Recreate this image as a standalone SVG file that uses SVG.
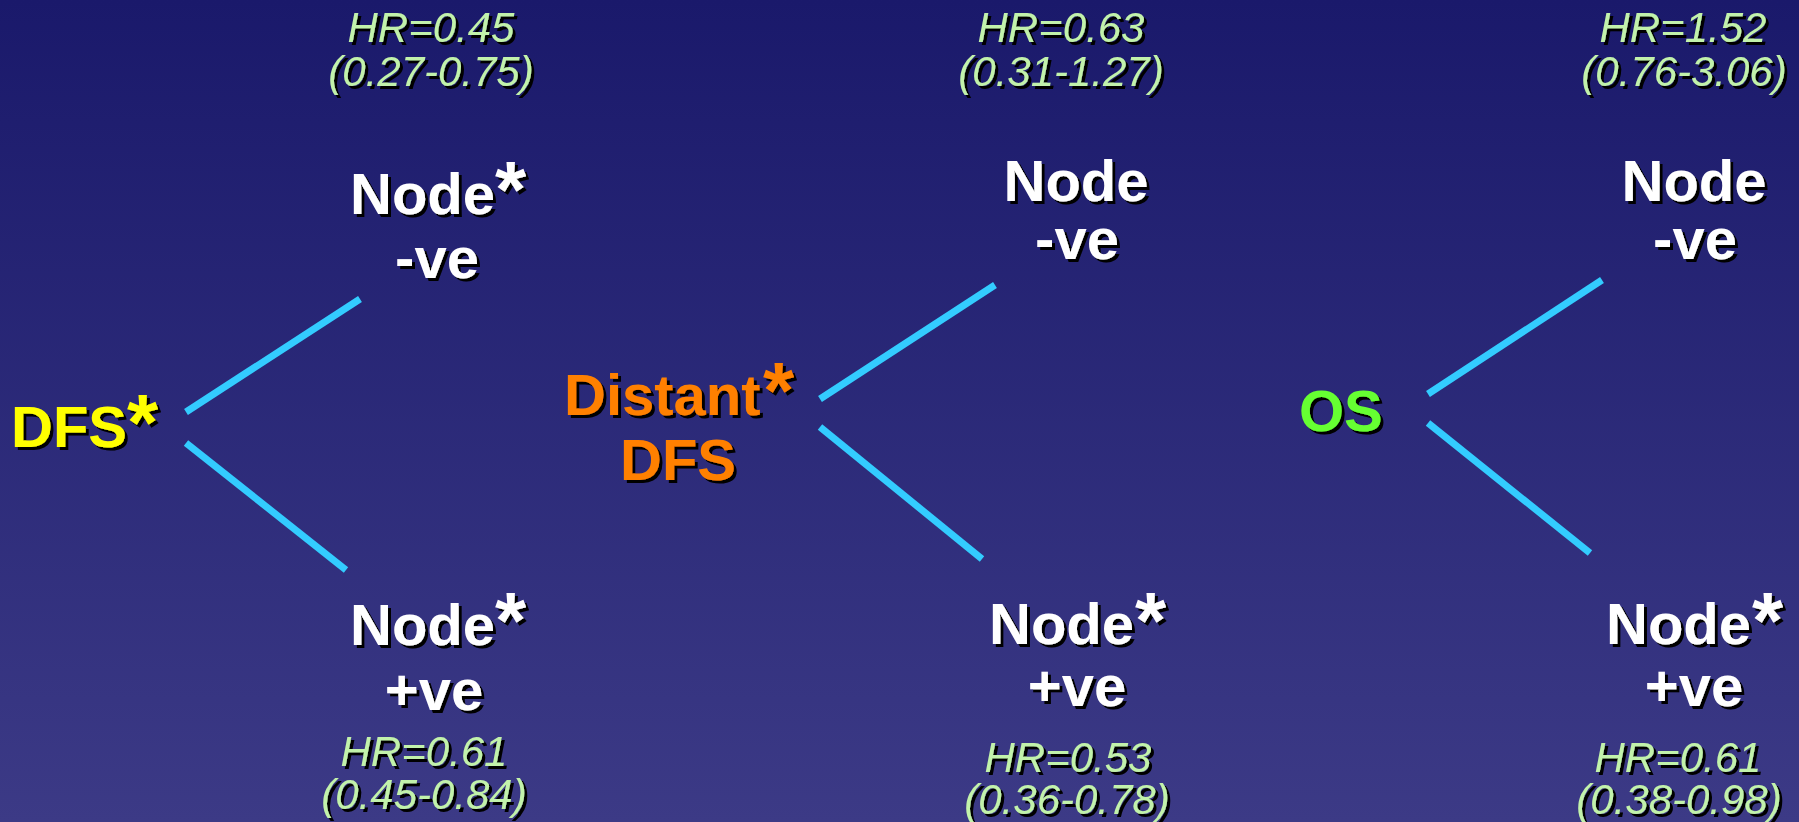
<svg xmlns="http://www.w3.org/2000/svg" width="1799" height="822" viewBox="0 0 1799 822">
  <defs>
    <linearGradient id="bg" x1="0" y1="0" x2="0" y2="1">
      <stop offset="0" stop-color="#1a196b"/>
      <stop offset="1" stop-color="#3c3a86"/>
    </linearGradient>
    <filter id="shadow" x="-10%" y="-20%" width="130%" height="150%">
      <feDropShadow dx="3" dy="3" stdDeviation="0" flood-color="#000000" flood-opacity="1"/>
    </filter>
    <style>
      .lbl { font-family: "Liberation Sans", Arial, sans-serif; font-weight: bold; font-size: 58px; filter: url(#shadow); }
      .star { font-family: "Liberation Sans", Arial, sans-serif; font-weight: bold; font-size: 80px; filter: url(#shadow); }
      .white { fill: #ffffff; }
      .yellow { fill: #ffff00; }
      .orange { fill: #ff8000; }
      .green { fill: #66ff33; }
      .hr { font-family: "Liberation Sans", Arial, sans-serif; font-style: italic; font-size: 42px; fill: #c2f2ab; text-anchor: middle; filter: url(#shadow); }
      .mid { text-anchor: middle; }
      .branch { stroke: #33ccff; stroke-width: 7; fill: none; }
    </style>
  </defs>

  <rect x="0" y="0" width="1799" height="822" fill="url(#bg)"/>

  <!-- branch lines -->
  <g id="connectors">
    <line class="branch" x1="186" y1="412" x2="360" y2="299"/>
    <line class="branch" x1="186" y1="443" x2="346" y2="570"/>
    <line class="branch" x1="820" y1="399" x2="995" y2="285"/>
    <line class="branch" x1="820" y1="427" x2="982" y2="559"/>
    <line class="branch" x1="1428" y1="394" x2="1602" y2="280"/>
    <line class="branch" x1="1428" y1="423" x2="1590" y2="553"/>
  </g>

  <!-- DFS tree -->
  <g id="dfs">
    <text class="lbl yellow" x="11" y="447">DFS</text>
    <text class="star yellow" x="127" y="450">*</text>
  </g>
  <g id="dfs-neg">
    <text class="hr" x="431" y="42">HR=0.45</text>
    <text class="hr" x="431" y="86">(0.27-0.75)</text>
    <text class="lbl white" x="350" y="214">Node</text>
    <text class="star white" x="495" y="217">*</text>
    <text class="lbl white mid" x="437" y="278">-ve</text>
  </g>
  <g id="dfs-pos">
    <text class="lbl white" x="350" y="645">Node</text>
    <text class="star white" x="495" y="648">*</text>
    <text class="lbl white mid" x="434" y="710">+ve</text>
    <text class="hr" x="424" y="766">HR=0.61</text>
    <text class="hr" x="424" y="809">(0.45-0.84)</text>
  </g>

  <!-- Distant DFS tree -->
  <g id="distant-dfs">
    <text class="lbl orange" x="564" y="415">Distant</text>
    <text class="star orange" x="763" y="418">*</text>
    <text class="lbl orange mid" x="678" y="480">DFS</text>
  </g>
  <g id="distant-neg">
    <text class="hr" x="1061" y="42">HR=0.63</text>
    <text class="hr" x="1061" y="86">(0.31-1.27)</text>
    <text class="lbl white mid" x="1076" y="201">Node</text>
    <text class="lbl white mid" x="1077" y="259">-ve</text>
  </g>
  <g id="distant-pos">
    <text class="lbl white" x="989" y="644">Node</text>
    <text class="star white" x="1135" y="648">*</text>
    <text class="lbl white mid" x="1077" y="706">+ve</text>
    <text class="hr" x="1068" y="772">HR=0.53</text>
    <text class="hr" x="1067" y="814">(0.36-0.78)</text>
  </g>

  <!-- OS tree -->
  <g id="os">
    <text class="lbl green" x="1299" y="431">OS</text>
  </g>
  <g id="os-neg">
    <text class="hr" x="1683" y="42">HR=1.52</text>
    <text class="hr" x="1684" y="86">(0.76-3.06)</text>
    <text class="lbl white mid" x="1694" y="201">Node</text>
    <text class="lbl white mid" x="1695" y="259">-ve</text>
  </g>
  <g id="os-pos">
    <text class="lbl white" x="1606" y="644">Node</text>
    <text class="star white" x="1752" y="648">*</text>
    <text class="lbl white mid" x="1694" y="706">+ve</text>
    <text class="hr" x="1678" y="772">HR=0.61</text>
    <text class="hr" x="1679" y="814">(0.38-0.98)</text>
  </g>
</svg>
